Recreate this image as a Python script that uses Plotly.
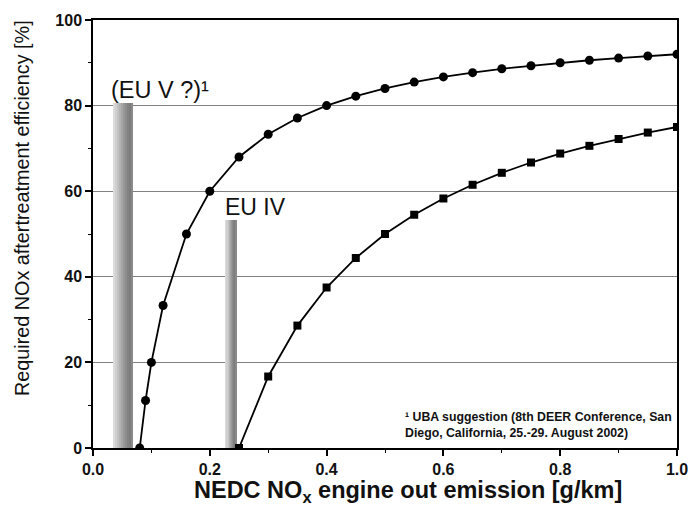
import plotly.graph_objects as go

# ---- data ----
euv_x = [0.08, 0.09, 0.10, 0.12, 0.16, 0.20, 0.25, 0.30, 0.35, 0.40, 0.45, 0.50,
         0.55, 0.60, 0.65, 0.70, 0.75, 0.80, 0.85, 0.90, 0.95, 1.00]
euv_y = [0.0, 11.1, 20.0, 33.3, 50.0, 60.0, 68.0, 73.3, 77.1, 80.0, 82.2, 84.0,
         85.5, 86.7, 87.7, 88.6, 89.3, 90.0, 90.6, 91.1, 91.6, 92.0]

euiv_x = [0.25, 0.30, 0.35, 0.40, 0.45, 0.50, 0.55, 0.60, 0.65, 0.70, 0.75, 0.80,
          0.85, 0.90, 0.95, 1.00]
euiv_y = [0.0, 16.7, 28.6, 37.5, 44.4, 50.0, 54.5, 58.3, 61.5, 64.3, 66.7, 68.8,
          70.6, 72.2, 73.7, 75.0]

bar_labels = ["(EU V ?)¹", "EU IV"]
bar_centers = [0.0515, 0.237]
bar_widths = [0.034, 0.019]
bar_heights = [80.6, 53.3]

y_ticks = [0, 20, 40, 60, 80, 100]
x_ticks = [0.0, 0.2, 0.4, 0.6, 0.8, 1.0]
x_ticklabels = ["0.0", "0.2", "0.4", "0.6", "0.8", "1.0"]

x_title = "NEDC NO<sub>x</sub> engine out emission [g/km]"
y_title = "Required NOx aftertreatment efficiency [%]"
footnote = "¹ UBA suggestion (8th DEER Conference, San<br>Diego, California, 25.-29. August 2002)"

FONT = "Liberation Sans, Arial, sans-serif"
W, H = 690, 505
ML, MR, MT, MB = 93, 13, 20, 57

fig = go.Figure()

# shaded bars built from thin strips (horizontal gradient)
strip_colors = ["#dcdcdc", "#cfcfcf", "#c2c2c2", "#b3b3b3", "#a5a5a5",
                "#989898", "#8c8c8c", "#828282", "#7c7c7c", "#8a8a8a"]
N = len(strip_colors)
for k, col in enumerate(strip_colors):
    xs = [c - w / 2 + (k + 0.5) * w / N for c, w in zip(bar_centers, bar_widths)]
    ws = [w / N * 1.05 for w in bar_widths]
    fig.add_trace(go.Bar(x=xs, y=bar_heights, width=ws, base=0,
                         marker=dict(color=col, line=dict(width=0)),
                         showlegend=False, hoverinfo="skip"))

fig.add_trace(go.Scatter(x=euv_x, y=euv_y, mode="lines+markers",
                         line=dict(color="black", width=1.8),
                         marker=dict(symbol="circle", size=9, color="black"),
                         showlegend=False))
fig.add_trace(go.Scatter(x=euiv_x, y=euiv_y, mode="lines+markers",
                         line=dict(color="black", width=1.8),
                         marker=dict(symbol="square", size=8, color="black"),
                         showlegend=False))

# bar labels
fig.add_annotation(x=0.027, y=83.6, xref="x", yref="y", text=bar_labels[0],
                   showarrow=False, xanchor="left", yanchor="middle",
                   font=dict(family=FONT, size=23.5, color="#111"))
fig.add_annotation(x=0.222, y=56.2, xref="x", yref="y", text=bar_labels[1],
                   showarrow=False, xanchor="left", yanchor="middle",
                   font=dict(family=FONT, size=23, color="#111"))
# footnote
fig.add_annotation(x=0.531, y=9.4, xref="x", yref="y", text=footnote,
                   showarrow=False, xanchor="left", yanchor="top", align="left",
                   font=dict(family=FONT, size=12.3, color="#111", weight="bold"))

# axis titles placed as annotations (paper coords derived from pixel layout)
pw, ph = W - ML - MR, H - MT - MB
fig.add_annotation(x=(408 - ML) / pw, y=-(492 - (H - MB)) / ph, xref="paper", yref="paper",
                   text=x_title, showarrow=False, xanchor="center", yanchor="middle",
                   font=dict(family=FONT, size=23.5, color="#111", weight="bold"))
fig.add_annotation(x=-(ML - 22) / pw, y=((H - MB) - 208) / ph, xref="paper", yref="paper",
                   text=y_title, textangle=-90, showarrow=False,
                   xanchor="center", yanchor="middle",
                   font=dict(family=FONT, size=19.8, color="#111"))

axis_common = dict(
    showline=True, linecolor="black", linewidth=1.5, mirror=True,
    ticks="outside", ticklen=6, tickwidth=1.5, tickcolor="black",
    tickfont=dict(family=FONT, size=16, color="#111", weight="bold"),
    zeroline=False,
)

fig.update_xaxes(range=[0, 1.0], tickvals=x_ticks, ticktext=x_ticklabels,
                 showgrid=False,
                 minor=dict(ticks="outside", ticklen=3, tickwidth=1.2, tickcolor="black",
                            dtick=0.1, showgrid=False),
                 **axis_common)
fig.update_yaxes(range=[0, 100], tickvals=y_ticks,
                 showgrid=True, gridcolor="#808080", gridwidth=1,
                 minor=dict(ticks="outside", ticklen=3, tickwidth=1.2, tickcolor="black",
                            dtick=10, showgrid=False),
                 **axis_common)

fig.update_layout(
    width=W, height=H,
    margin=dict(l=ML, r=MR, t=MT, b=MB, autoexpand=False),
    plot_bgcolor="white", paper_bgcolor="white",
    barmode="overlay", bargap=0,
    font=dict(family=FONT),
)

fig.write_html("out.html", config={"displayModeBar": False},
               post_script="document.body.style.margin='0';")
